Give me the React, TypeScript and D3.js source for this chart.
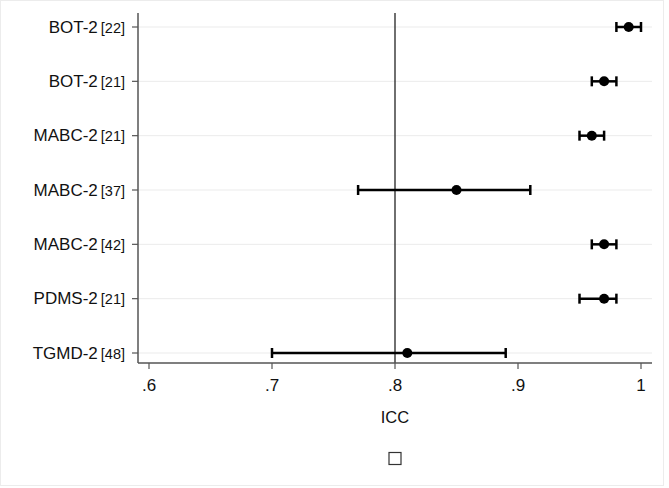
import React from 'react';
import * as d3 from 'd3';

const tools = ['BOT-2', 'BOT-2', 'MABC-2', 'MABC-2', 'MABC-2', 'PDMS-2', 'TGMD-2'];
const refs = ['[22]', '[21]', '[21]', '[37]', '[42]', '[21]', '[48]'];
const icc = [0.99, 0.97, 0.96, 0.85, 0.97, 0.97, 0.81];
const lower = [0.98, 0.96, 0.95, 0.77, 0.96, 0.95, 0.70];
const upper = [1.0, 0.98, 0.97, 0.91, 0.98, 0.98, 0.89];
const xTicks = [0.6, 0.7, 0.8, 0.9, 1.0];
const refLine = 0.8;

const App = () => {
  const ref = React.useRef<SVGSVGElement>(null);

  React.useEffect(() => {
    const svg = d3.select(ref.current);
    svg.selectAll('*').remove();

    const plot = { left: 138, right: 652, top: 13, bottom: 363 };
    const font = '"Liberation Sans", Arial, sans-serif';

    const rows = tools.map((t, i) => `${i}`);
    const x = d3.scaleLinear().domain([0.6, 1]).range([149, 641]);
    const y = d3.scalePoint().domain(rows).range([27, 353]);

    // faint outer frame
    svg.append('rect')
      .attr('x', 0.5).attr('y', 0.5)
      .attr('width', 663).attr('height', 485)
      .attr('fill', 'white')
      .attr('stroke', '#ececec');

    // gridlines
    svg.append('g').selectAll('line')
      .data(rows)
      .enter()
      .append('line')
      .attr('x1', plot.left)
      .attr('x2', plot.right)
      .attr('y1', d => y(d))
      .attr('y2', d => y(d))
      .attr('stroke', '#ebebeb')
      .attr('stroke-width', 1);

    // reference line at .8
    svg.append('line')
      .attr('x1', x(refLine)).attr('x2', x(refLine))
      .attr('y1', plot.top).attr('y2', plot.bottom)
      .attr('stroke', '#222')
      .attr('stroke-width', 1.3);

    // y axis
    const yAxis = svg.append('g');
    yAxis.append('line')
      .attr('x1', plot.left).attr('x2', plot.left)
      .attr('y1', plot.top).attr('y2', plot.bottom)
      .attr('stroke', '#555').attr('stroke-width', 1.5);
    yAxis.selectAll('.ytick')
      .data(rows)
      .enter()
      .append('line')
      .attr('class', 'ytick')
      .attr('x1', plot.left - 6).attr('x2', plot.left)
      .attr('y1', d => y(d)).attr('y2', d => y(d))
      .attr('stroke', '#555').attr('stroke-width', 1.2);
    const labels = yAxis.selectAll('.ylabel')
      .data(rows)
      .enter()
      .append('text')
      .attr('class', 'ylabel')
      .attr('x', 125)
      .attr('y', d => y(d))
      .attr('dy', '0.36em')
      .attr('text-anchor', 'end')
      .style('font-family', font)
      .style('fill', '#111');
    labels.append('tspan')
      .style('font-size', '17px')
      .text(d => tools[+d]);
    labels.append('tspan')
      .attr('dx', 3)
      .style('font-size', '14.5px')
      .text(d => refs[+d]);

    // x axis
    const xAxis = svg.append('g');
    xAxis.append('line')
      .attr('x1', plot.left).attr('x2', plot.right)
      .attr('y1', plot.bottom).attr('y2', plot.bottom)
      .attr('stroke', '#555').attr('stroke-width', 1.5);
    xAxis.selectAll('.xtick')
      .data(xTicks)
      .enter()
      .append('line')
      .attr('class', 'xtick')
      .attr('x1', d => x(d)).attr('x2', d => x(d))
      .attr('y1', plot.bottom).attr('y2', plot.bottom + 6)
      .attr('stroke', '#555').attr('stroke-width', 1.2);
    xAxis.selectAll('.xlabel')
      .data(xTicks)
      .enter()
      .append('text')
      .attr('class', 'xlabel')
      .attr('x', d => x(d))
      .attr('y', 385)
      .attr('dy', '0.36em')
      .attr('text-anchor', 'middle')
      .style('font-family', font)
      .style('font-size', '17px')
      .style('fill', '#111')
      .text(d => (d === 1 ? '1' : d3.format('.1f')(d).replace(/^0/, '')));

    svg.append('text')
      .attr('x', x(refLine))
      .attr('y', 417)
      .attr('dy', '0.36em')
      .attr('text-anchor', 'middle')
      .style('font-family', font)
      .style('font-size', '16.5px')
      .style('fill', '#111')
      .text('ICC');

    // empty legend box
    svg.append('rect')
      .attr('x', x(refLine) - 6).attr('y', 452.5)
      .attr('width', 12).attr('height', 12)
      .attr('fill', 'white')
      .attr('stroke', '#333')
      .attr('stroke-width', 1.2);

    // error bars
    const bars = svg.append('g').selectAll('g')
      .data(rows)
      .enter()
      .append('g');
    bars.append('line')
      .attr('x1', d => x(lower[+d])).attr('x2', d => x(upper[+d]))
      .attr('y1', d => y(d)).attr('y2', d => y(d))
      .attr('stroke', '#000').attr('stroke-width', 2.5);
    [lower, upper].forEach(arr => {
      bars.append('line')
        .attr('x1', d => x(arr[+d])).attr('x2', d => x(arr[+d]))
        .attr('y1', d => y(d) - 5).attr('y2', d => y(d) + 5)
        .attr('stroke', '#000').attr('stroke-width', 2.5);
    });
    bars.append('circle')
      .attr('cx', d => x(icc[+d]))
      .attr('cy', d => y(d))
      .attr('r', 5)
      .attr('fill', '#000');
  }, []);

  return (
    <svg
      ref={ref}
      width={669}
      height={488}
      style={{ position: 'absolute', left: 0, top: 0, background: 'white' }}
    />
  );
};

export default App;
